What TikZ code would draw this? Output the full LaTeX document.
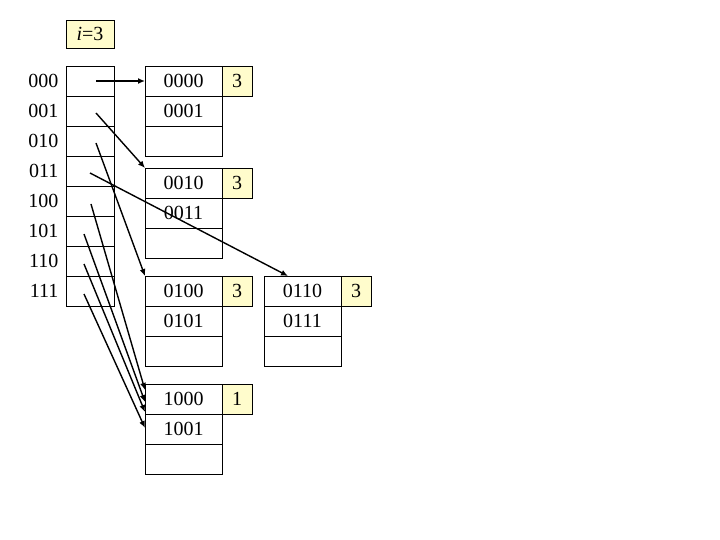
\documentclass[tikz,border=0pt]{standalone}
\usepackage{fontspec}
\setmainfont{Liberation Serif}
\usetikzlibrary{arrows.meta}
\begin{document}
\begin{tikzpicture}[x=1pt,y=-1pt,font=\fontsize{20}{22}\selectfont,
 cell/.style={draw,minimum width=#1,minimum height=30,inner sep=0,outer sep=0,anchor=north west},
 cell/.default=77,
 depth/.style={draw,fill=yellow!20,minimum width=30,minimum height=30,inner sep=0,outer sep=0,anchor=north west},
 ptr/.style={-{Latex[length=7pt,width=6pt]},line width=1.4pt}]
\useasboundingbox (0,0) rectangle (720,540);
\node[depth,minimum width=48,minimum height=28] (ibox) at (66,20) {\textit{i}=3};
\foreach \l [count=\k from 0] in {000,001,010,011,100,101,110,111}{
  \node[cell=48] (d\k) at (66,66+30*\k) {};
  \node[anchor=east] (l\k) at (62,81+30*\k) {\l};
}
\newcommand{\bucket}[6]{%
  \node[cell] (#1a) at (#2,#3) {#4};
  \node[cell] (#1b) at (#2,#3+30) {#5};
  \node[cell] (#1c) at (#2,#3+60) {};
  \node[depth] (#1d) at (#2+77,#3) {#6};}
\bucket{A}{145}{66}{0000}{0001}{3}
\bucket{B}{145}{168}{0010}{0011}{3}
\bucket{C}{145}{276}{0100}{0101}{3}
\bucket{D}{264}{276}{0110}{0111}{3}
\node[cell] (Ea) at (145,384) {1000};
\node[cell] (Eb) at (145,414) {1001};
\node[cell] (Ec) at (145,444) {};
\node[depth] (Ed) at (222,384) {1};
\coordinate (s0) at (96,81); \coordinate (s1) at (96,113);
\coordinate (s2) at (96,143); \coordinate (s3) at (90,173);
\coordinate (s4) at (91,204); \coordinate (s5) at (84,234);
\coordinate (s6) at (84,264); \coordinate (s7) at (84,294);
\draw[ptr] (s0) -- (Aa.west);
\draw[ptr] (s1) -- (Ba.north west);
\draw[ptr] (s2) -- (Ca.north west);
\draw[ptr] (s3) -- ([xshift=24]Da.north west);
\draw[ptr] (s4) -- ([yshift=-6]Ea.north west);
\draw[ptr] (s5) -- ([yshift=-18]Ea.north west);
\draw[ptr] (s6) -- ([yshift=-28]Ea.north west);
\draw[ptr] (s7) -- ([yshift=-44]Ea.north west);
\end{tikzpicture}
\end{document}
